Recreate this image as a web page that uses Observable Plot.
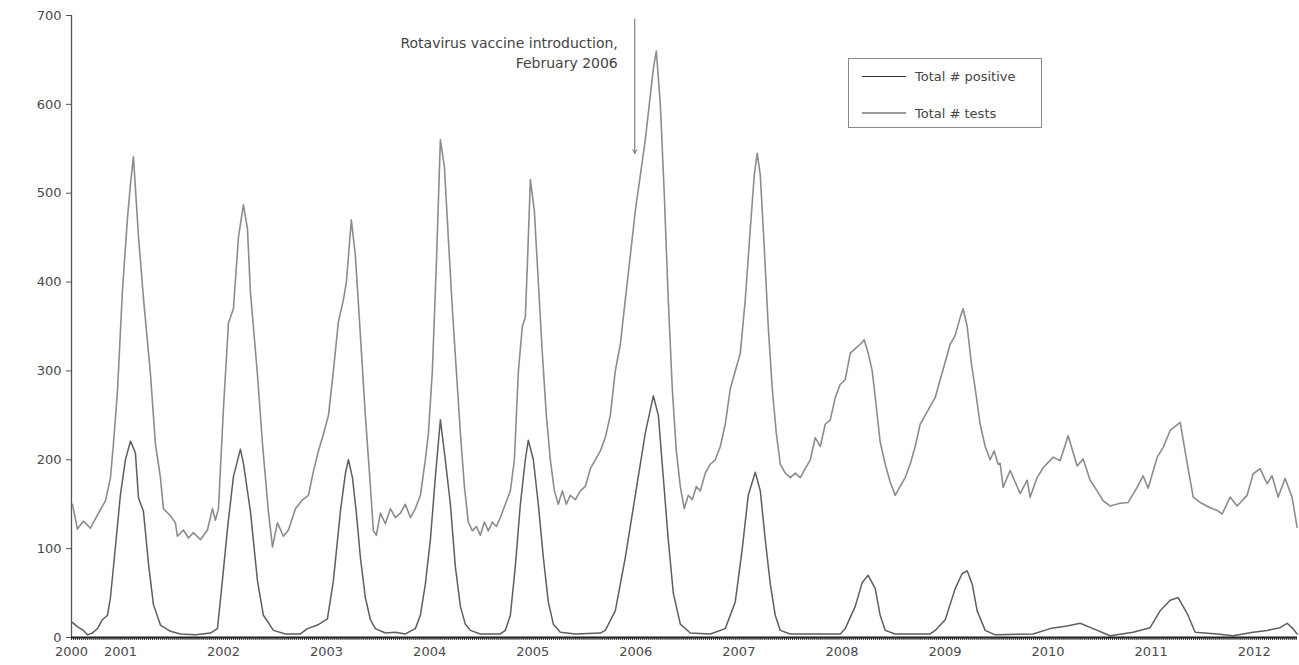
<!DOCTYPE html>
<html>
<head>
<meta charset="utf-8">
<script src="https://cdn.jsdelivr.net/npm/d3@7"></script>
<script src="https://cdn.jsdelivr.net/npm/@observablehq/plot@0.6"></script>
<style>
  body { margin: 0; background: #fff; font-family: "DejaVu Sans", sans-serif; }
  #wrap { position: relative; width: 1299px; height: 665px; }
  #legend { position: absolute; left: 848px; top: 58px; width: 194px; height: 70px;
    border: 1.5px solid #8a8a8a; background: #fff; box-sizing: border-box; }
  .row { position: absolute; left: 0; display: flex; align-items: center; }
  .sw { display: inline-block; width: 44px; margin-left: 13px; margin-right: 9px; }
  .lab { font-size: 13px; color: #444; white-space: nowrap; }
</style>
</head>
<body>
<div id="wrap">
  <div id="chart"></div>
  <div id="legend"></div>
</div>
<script>
// ---- data ----
const seriesNames = ["Total # positive", "Total # tests"];
const seriesColors = ["#5e5e5e", "#8c8c8c"];

const testsYear = [2000.534,2000.583,2000.641,2000.709,2000.787,2000.855,2000.903,2000.932,2000.971,
2001.019,2001.068,2001.097,2001.126,2001.175,2001.223,2001.291,2001.339,2001.388,2001.417,2001.485,2001.533,2001.553,2001.611,2001.660,2001.708,2001.776,2001.844,2001.893,2001.921,2001.951,
2001.999,2002.048,2002.096,2002.145,2002.193,2002.232,2002.261,2002.329,2002.378,2002.436,2002.475,2002.523,2002.581,2002.630,2002.698,2002.766,2002.824,2002.872,2002.921,2002.960,
2003.018,2003.066,2003.114,2003.163,2003.192,2003.240,2003.279,2003.328,2003.376,2003.425,2003.454,2003.483,2003.522,2003.570,2003.619,2003.667,2003.716,2003.764,2003.813,2003.861,2003.910,2003.958,2003.988,
2004.026,2004.065,2004.104,2004.143,2004.181,2004.220,2004.259,2004.298,2004.337,2004.375,2004.414,2004.453,2004.492,2004.531,2004.569,2004.608,2004.647,2004.686,2004.734,2004.783,2004.822,2004.861,2004.899,2004.928,2004.948,2004.977,
2005.016,2005.054,2005.093,2005.132,2005.171,2005.210,2005.248,2005.287,2005.326,2005.365,2005.413,2005.462,2005.510,2005.559,2005.607,2005.656,2005.704,2005.753,2005.801,2005.850,2005.898,2005.947,2005.995,
2006.044,2006.092,2006.141,2006.170,2006.199,2006.238,2006.276,2006.315,2006.354,2006.393,2006.432,2006.470,2006.509,2006.548,2006.587,2006.626,2006.674,2006.723,2006.771,2006.820,2006.868,2006.917,2006.965,
2007.014,2007.062,2007.111,2007.149,2007.178,2007.208,2007.246,2007.285,2007.324,2007.363,2007.402,2007.450,2007.499,2007.547,2007.596,2007.644,2007.693,2007.741,2007.790,2007.838,2007.887,2007.935,2007.984,
2008.032,2008.081,2008.129,2008.177,2008.216,2008.255,2008.294,2008.333,2008.371,2008.420,2008.468,2008.517,2008.565,2008.614,2008.662,2008.711,2008.759,2008.808,2008.856,2008.905,2008.953,
2009.002,2009.050,2009.099,2009.147,2009.176,2009.215,2009.254,2009.293,2009.341,2009.390,2009.438,2009.477,2009.516,2009.535,2009.564,2009.632,2009.729,2009.797,2009.826,2009.894,2009.952,
2010.050,2010.117,2010.195,2010.282,2010.340,2010.408,2010.476,2010.534,2010.602,2010.699,2010.777,2010.864,2010.922,2010.971,
2011.059,2011.117,2011.185,2011.282,2011.350,2011.408,2011.476,2011.573,2011.640,2011.689,2011.766,2011.834,2011.931,2011.989,
2012.057,2012.125,2012.173,2012.232,2012.300,2012.367,2012.416];

const testsCount = [150,122,131,123,140,154,180,218,277,
390,472,510,541,451,382,297,218,180,145,137,129,114,121,112,118,110,121,145,132,145,
257,354,370,451,487,460,389,296,218,141,102,129,114,121,145,155,160,187,210,225,
250,300,355,380,400,470,430,340,250,170,120,115,140,128,145,135,140,150,135,145,160,200,230,
300,420,560,530,450,370,300,230,170,130,120,125,115,130,120,130,125,135,150,165,200,300,350,360,420,515,
480,400,320,250,200,165,150,165,150,160,155,165,170,190,200,210,225,250,300,330,380,430,480,
520,560,610,640,660,600,500,380,280,210,170,145,160,155,170,165,185,195,200,215,240,280,300,
320,380,460,520,545,520,440,350,280,230,195,185,180,185,180,190,200,225,215,240,245,270,285,
290,320,325,330,335,320,300,260,220,195,175,160,170,180,195,215,240,250,260,270,290,
310,330,340,360,370,350,310,280,240,215,200,210,195,196,169,188,162,177,158,180,191,
203,199,227,193,201,177,165,154,148,151,152,169,182,168,
203,214,233,242,196,158,152,146,143,139,158,148,160,184,
190,173,182,158,179,158,124];

const positiveYear = [2000.534,2000.583,2000.641,2000.680,2000.728,2000.777,2000.825,2000.874,2000.903,2000.952,
2001.000,2001.048,2001.097,2001.145,2001.175,2001.223,2001.272,2001.320,2001.388,2001.485,2001.582,2001.727,2001.873,2001.941,2001.989,
2002.038,2002.096,2002.164,2002.193,2002.261,2002.329,2002.387,2002.484,2002.601,2002.746,2002.814,2002.911,
2003.008,2003.066,2003.134,2003.183,2003.212,2003.251,2003.289,2003.328,2003.376,2003.425,2003.473,2003.570,2003.667,2003.764,2003.861,2003.910,2003.958,
2004.007,2004.055,2004.104,2004.152,2004.201,2004.249,2004.298,2004.346,2004.395,2004.492,2004.686,2004.734,2004.783,2004.831,2004.880,2004.928,2004.957,
2005.006,2005.054,2005.103,2005.151,2005.200,2005.268,2005.413,2005.656,2005.704,2005.801,2005.898,2005.995,
2006.092,2006.170,2006.219,2006.267,2006.315,2006.364,2006.432,2006.529,2006.723,2006.868,2006.965,
2007.033,2007.091,2007.159,2007.208,2007.256,2007.305,2007.353,2007.402,2007.499,2007.984,
2008.032,2008.129,2008.197,2008.255,2008.323,2008.371,2008.420,2008.517,2008.856,2008.905,
2009.002,2009.099,2009.167,2009.215,2009.264,2009.312,2009.390,2009.487,2009.855,
2010.020,2010.185,2010.311,2010.437,2010.602,2010.825,2010.990,
2011.087,2011.185,2011.262,2011.350,2011.427,2011.640,2011.795,2011.989,
2012.125,2012.251,2012.319,2012.377,2012.416];

const positiveCount = [17,12,8,3,5,10,20,25,45,103,
161,200,221,208,157,142,83,37,14,7,4,3,5,10,64,
122,181,212,196,142,64,25,8,4,4,10,14,
21,64,142,185,200,180,140,90,45,20,10,5,6,4,10,25,60,
110,180,245,200,150,80,35,15,8,4,4,8,25,80,150,200,222,
200,150,90,40,15,6,4,5,8,30,90,160,
230,272,250,180,110,50,15,5,4,10,40,
100,160,186,165,110,60,25,8,4,4,
10,35,62,70,55,25,8,4,4,8,
20,55,72,75,60,30,8,3,4,
10,13,16,10,2,6,11,
30,42,45,27,6,4,2,6,
8,11,16,10,4];

const tickYears = [2000,2001,2002,2003,2004,2005,2006,2007,2008,2009,2010,2011,2012];
const yTicks = [0,100,200,300,400,500,600,700];
const xStart = 2000.525, xEnd = 2012.42;
const annotationLines = ["Rotavirus vaccine introduction,", "February 2006"];
const vaccineYear = 2005.99;

// ---- build tables ----
const tests = testsYear.map((x, i) => ({x, y: testsCount[i]}));
const positive = positiveYear.map((x, i) => ({x, y: positiveCount[i]}));
const tickPos = tickYears.map(y => (y < xStart ? xStart : y));
const labelAt = new Map(tickPos.map((p, i) => [p, String(tickYears[i])]));
const weeks = d3.range(xStart, xEnd, 7 / 365.25);

const chart = Plot.plot({
  width: 1299,
  height: 665,
  marginLeft: 71,
  marginRight: 2,
  marginTop: 15,
  marginBottom: 28,
  style: {fontFamily: "DejaVu Sans, sans-serif", fontSize: "13px", color: "#4a4a4a", background: "#fff"},
  x: {domain: [xStart, xEnd], axis: null},
  y: {domain: [0, 700], axis: null},
  marks: [
    Plot.axisY({ticks: yTicks, tickSize: 5, tickPadding: 5, fontSize: 13, stroke: "#555", fill: "#4a4a4a", label: null}),
    Plot.ruleX([xStart], {stroke: "#555", strokeWidth: 1.3}),
    Plot.axisX({ticks: weeks, tickSize: 3, tickFormat: () => "", stroke: "#333", label: null}),
    Plot.axisX({ticks: tickPos, tickSize: 0, tickPadding: 9, tickFormat: d => labelAt.get(d), fontSize: 13, fill: "#4a4a4a", label: null}),
    Plot.line(tests, {x: "x", y: "y", stroke: seriesColors[1], strokeWidth: 1.6}),
    Plot.line(positive, {x: "x", y: "y", stroke: seriesColors[0], strokeWidth: 1.5}),
    Plot.ruleY([0], {stroke: "#222", strokeWidth: 2}),
    Plot.arrow([vaccineYear], {x1: d => d, x2: d => d, y1: 696, y2: 545, stroke: "#666", strokeWidth: 1, headLength: 6}),
    Plot.text([annotationLines.join("\n")], {x: vaccineYear, y: 679, text: d => d, textAnchor: "end", lineAnchor: "top", dx: -17, fontSize: 14, lineHeight: 1.42, fill: "#444"})
  ]
});
document.getElementById("chart").appendChild(chart);

// ---- legend ----
const legend = document.getElementById("legend");
seriesNames.forEach((name, i) => {
  const row = document.createElement("div");
  row.className = "row";
  row.style.top = (i === 0 ? 8 : 45) + "px";
  row.style.height = "18px";
  const sw = document.createElement("span");
  sw.className = "sw";
  sw.style.borderTop = (i === 0 ? "1.5px solid #333" : "2.5px solid #999");
  const lab = document.createElement("span");
  lab.className = "lab";
  lab.textContent = name;
  row.appendChild(sw);
  row.appendChild(lab);
  legend.appendChild(row);
});
</script>
</body>
</html>
